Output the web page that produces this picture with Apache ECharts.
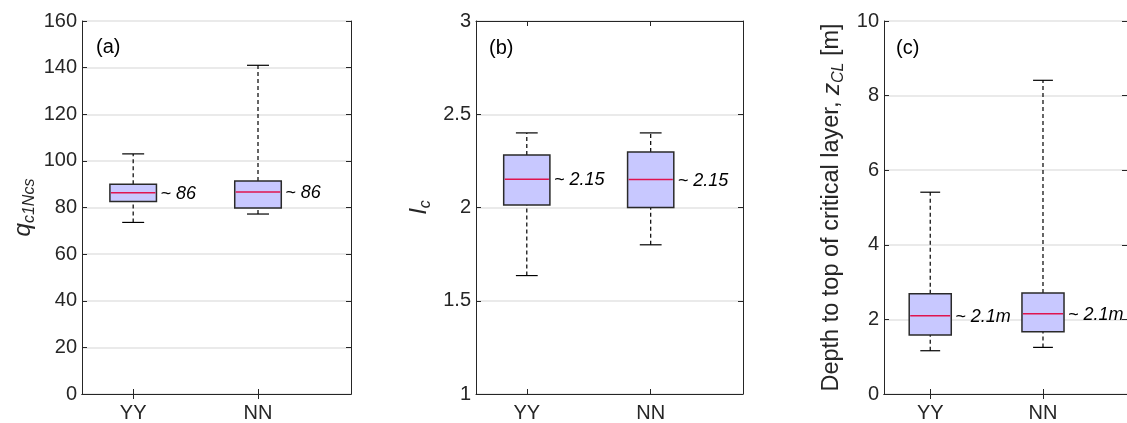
<!DOCTYPE html>
<html>
<head>
<meta charset="utf-8">
<script src="https://cdn.jsdelivr.net/npm/echarts@6.0.0/dist/echarts.min.js"></script>
<style>
  html, body { margin: 0; padding: 0; background: #fff; }
  #chart { width: 1127px; height: 423px; }
</style>
</head>
<body>
<div id="chart"></div>
<script>
// 数据：每组 [最小值, 下四分位, 中位数, 上四分位, 最大值]
const categories = ['YY', 'NN'];
const qc1NcsStats = [[73.6, 82.6, 86.3, 90.0, 103], [77.2, 79.8, 86.7, 91.4, 141]];
const icStats = [[1.635, 2.013, 2.151, 2.282, 2.40], [1.80, 2.00, 2.15, 2.298, 2.40]];
const zclStats = [[1.16, 1.58, 2.10, 2.69, 5.41], [1.25, 1.67, 2.15, 2.71, 8.41]];
const qc1NcsNotes = ['~ 86', '~ 86'];
const icNotes = ['~ 2.15', '~ 2.15'];
const zclNotes = ['~ 2.1m', '~ 2.1m'];
const panelTags = ['(a)', '(b)', '(c)'];

const FONT = "'Liberation Sans', Arial, Helvetica, sans-serif";
const INK = '#262626';
const BOX_WIDTH = 0.373;
const CAP_WIDTH = 0.176;

const chart = echarts.init(document.getElementById('chart'));

// 组装 custom series 需要的数据
function toData(stats) {
  return stats.map((s, i) => [i + 1].concat(s));
}

// 画箱线图（MATLAB 风格：虚线须、实线帽、红色中位线）
function makeRender(notes) {
  return function (params, api) {
    const x = api.value(0);
    const lo = api.coord([x, api.value(1)]);
    const q1 = api.coord([x, api.value(2)]);
    const md = api.coord([x, api.value(3)]);
    const q3 = api.coord([x, api.value(4)]);
    const hi = api.coord([x, api.value(5)]);
    const bw = api.size([BOX_WIDTH, 0])[0];
    const cw = api.size([CAP_WIDTH, 0])[0];
    const cx = md[0];
    const whisker = { stroke: '#000', lineWidth: 1.2, lineDash: [4, 3] };
    const solid = { stroke: '#000', lineWidth: 1.2 };
    return {
      type: 'group',
      children: [
        { type: 'line', shape: { x1: cx, y1: q3[1], x2: cx, y2: hi[1] }, style: whisker },
        { type: 'line', shape: { x1: cx, y1: lo[1], x2: cx, y2: q1[1] }, style: whisker },
        { type: 'line', shape: { x1: cx - cw / 2, y1: hi[1], x2: cx + cw / 2, y2: hi[1] }, style: solid },
        { type: 'line', shape: { x1: cx - cw / 2, y1: lo[1], x2: cx + cw / 2, y2: lo[1] }, style: solid },
        {
          type: 'rect',
          shape: { x: cx - bw / 2, y: q3[1], width: bw, height: q1[1] - q3[1] },
          style: { fill: '#c8c8ff', stroke: '#2a2a2a', lineWidth: 1.5 }
        },
        {
          type: 'line',
          shape: { x1: cx - bw / 2 + 1, y1: md[1], x2: cx + bw / 2 - 1, y2: md[1] },
          style: { stroke: '#e0144f', lineWidth: 1.5 }
        },
        {
          type: 'text',
          style: {
            text: notes[params.dataIndex],
            x: cx + bw / 2 + 4,
            y: md[1] + 1,
            fill: '#000',
            fontSize: 18,
            fontStyle: 'italic',
            fontFamily: FONT,
            align: 'left',
            verticalAlign: 'middle'
          }
        }
      ]
    };
  };
}

const grids = [
  { left: 82, top: 21, width: 269, height: 374 },
  { left: 476, top: 21, width: 267, height: 374 },
  { left: 884, top: 21, width: 252, height: 374 }
];

const yRanges = [
  { min: 0, max: 160, interval: 20 },
  { min: 1, max: 3, interval: 0.5 },
  { min: 0, max: 10, interval: 2 }
];

const yNames = [
  { name: '{i|q}{s|c1Ncs}', gap: 44 },
  { name: '{i|I}{s|c}', gap: 42 },
  { name: '{n|Depth to top of critical layer, }{i|z}{s|CL}{n| [m]}', gap: 37 }
];

const xAxes = [];
const yAxes = [];
grids.forEach((g, k) => {
  const common = {
    type: 'value',
    gridIndex: k,
    min: 0.59,
    max: 2.745,
    z: 3,
    axisLine: { show: true, lineStyle: { color: INK, width: 1 } },
    splitLine: { show: false }
  };
  xAxes.push(Object.assign({}, common, {
    position: 'bottom',
    axisTick: { show: true, inside: true, length: 5, customValues: [1, 2], lineStyle: { color: INK } },
    axisLabel: {
      customValues: [1, 2],
      formatter: v => categories[Math.round(v) - 1],
      color: INK, fontSize: 20, fontFamily: FONT, margin: 9
    }
  }));
  xAxes.push(Object.assign({}, common, {
    position: 'top',
    axisTick: { show: true, inside: true, length: 5, customValues: [1, 2], lineStyle: { color: INK } },
    axisLabel: { show: false }
  }));

  const yc = {
    type: 'value',
    gridIndex: k,
    min: yRanges[k].min,
    max: yRanges[k].max,
    interval: yRanges[k].interval,
    z: 1,
    axisLine: { show: true, lineStyle: { color: INK, width: 1 } },
    axisTick: { show: true, inside: true, length: 5, lineStyle: { color: INK } }
  };
  yAxes.push(Object.assign({}, yc, {
    position: 'left',
    name: yNames[k].name,
    nameLocation: 'middle',
    nameGap: yNames[k].gap,
    nameRotate: 90,
    nameTextStyle: {
      color: INK,
      fontFamily: FONT,
      rich: {
        n: { fontSize: 23.5, fontFamily: FONT, color: INK, lineHeight: 30 },
        i: { fontSize: 24, fontStyle: 'italic', fontFamily: FONT, color: INK, lineHeight: 30 },
        s: { fontSize: 16, fontStyle: 'italic', fontFamily: FONT, color: INK, verticalAlign: 'bottom', lineHeight: 16 }
      }
    },
    axisLabel: { color: INK, fontSize: 20, fontFamily: FONT, margin: 5 },
    splitLine: { show: true, lineStyle: { color: '#e3e3e3', width: 1.5 } }
  }));
  yAxes.push(Object.assign({}, yc, {
    position: 'right',
    axisLabel: { show: false },
    splitLine: { show: false }
  }));
});

const tagPos = [[96, 37], [489, 38], [896, 38]];

const option = {
  animation: false,
  backgroundColor: '#fff',
  title: panelTags.map((t, k) => ({
    text: t,
    left: tagPos[k][0],
    top: tagPos[k][1],
    padding: 0,
    textStyle: { color: '#000', fontSize: 20, fontWeight: 'normal', fontFamily: FONT }
  })),
  grid: grids,
  xAxis: xAxes,
  yAxis: yAxes,
  series: [
    { type: 'custom', xAxisIndex: 0, yAxisIndex: 0, renderItem: makeRender(qc1NcsNotes), encode: { x: 0, y: [1, 2, 3, 4, 5] }, data: toData(qc1NcsStats) },
    { type: 'custom', xAxisIndex: 2, yAxisIndex: 2, renderItem: makeRender(icNotes), encode: { x: 0, y: [1, 2, 3, 4, 5] }, data: toData(icStats) },
    { type: 'custom', xAxisIndex: 4, yAxisIndex: 4, renderItem: makeRender(zclNotes), encode: { x: 0, y: [1, 2, 3, 4, 5] }, data: toData(zclStats) }
  ]
};

chart.setOption(option);
</script>
</body>
</html>
